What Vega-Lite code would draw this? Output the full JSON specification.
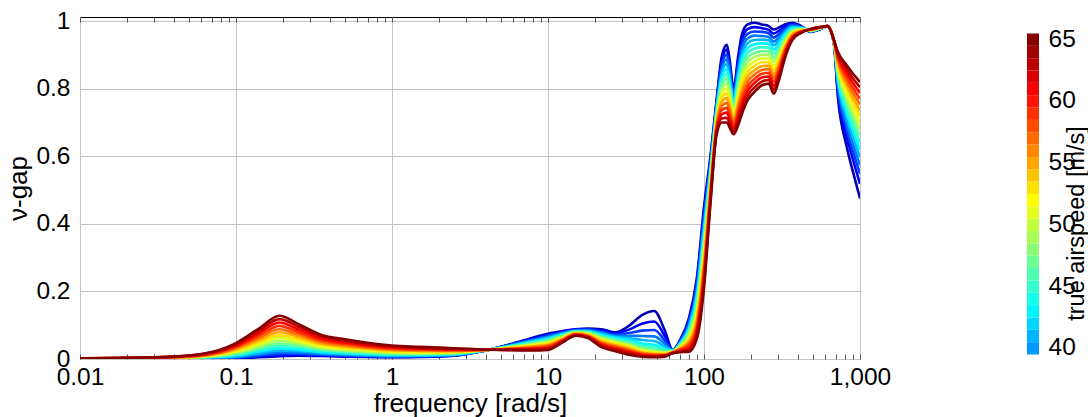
{
"$schema": "https://vega.github.io/schema/vega-lite/v6.json",
"padding": {"left": 5, "top": 7, "right": 0, "bottom": 0},
"bounds": "flush",
"spacing": 167,
"config": {
  "font": "Liberation Sans",
  "view": {"stroke": "#000", "strokeWidth": 1},
  "axis": {"labelFont": "Liberation Sans", "titleFont": "Liberation Sans", "labelFontSize": 24.5, "titleFontSize": 26, "labelColor": "#000", "titleColor": "#000", "titleFontWeight": "normal", "gridColor": "#c4c4c4", "domain": false, "labelFlush": false, "labelOverlap": false}
},
"hconcat": [
{
  "width": 780, "height": 342,
  "data": {"values": [
{"s":33,"f":0.01,"g":0},{"s":33,"f":0.03,"g":0},{"s":33,"f":0.06,"g":0.001},{"s":33,"f":0.1,"g":0.002},{"s":33,"f":0.14,"g":0.005},{"s":33,"f":0.19,"g":0.008},{"s":33,"f":0.25,"g":0.010},{"s":33,"f":0.35,"g":0.009},{"s":33,"f":0.5,"g":0.007},{"s":33,"f":0.7,"g":0.006},{"s":33,"f":1,"g":0.005},{"s":33,"f":1.5,"g":0.006},{"s":33,"f":2.5,"g":0.010},{"s":33,"f":4,"g":0.025},{"s":33,"f":6,"g":0.046},{"s":33,"f":8,"g":0.063},{"s":33,"f":10,"g":0.075},{"s":33,"f":12.5,"g":0.083},{"s":33,"f":15,"g":0.088},{"s":33,"f":18,"g":0.090},{"s":33,"f":22,"g":0.088},{"s":33,"f":27,"g":0.079},{"s":33,"f":33,"g":0.098},{"s":33,"f":40,"g":0.130},{"s":33,"f":48,"g":0.142},{"s":33,"f":56,"g":0.085},{"s":33,"f":63,"g":0.027},{"s":33,"f":70,"g":0.055},{"s":33,"f":80,"g":0.120},{"s":33,"f":90,"g":0.240},{"s":33,"f":100,"g":0.450},{"s":33,"f":110,"g":0.600},{"s":33,"f":120,"g":0.760},{"s":33,"f":130,"g":0.895},{"s":33,"f":140,"g":0.930},{"s":33,"f":145,"g":0.895},{"s":33,"f":155,"g":0.800},{"s":33,"f":165,"g":0.890},{"s":33,"f":175,"g":0.960},{"s":33,"f":190,"g":0.990},{"s":33,"f":210,"g":0.995},{"s":33,"f":235,"g":0.990},{"s":33,"f":260,"g":0.985},{"s":33,"f":280,"g":0.975},{"s":33,"f":300,"g":0.980},{"s":33,"f":330,"g":0.990},{"s":33,"f":370,"g":0.995},{"s":33,"f":420,"g":0.985},{"s":33,"f":480,"g":0.968},{"s":33,"f":550,"g":0.975},{"s":33,"f":620,"g":0.985},{"s":33,"f":680,"g":0.935},{"s":33,"f":720,"g":0.780},{"s":33,"f":820,"g":0.630},{"s":33,"f":900,"g":0.555},{"s":33,"f":1000,"g":0.475},
{"s":35,"f":0.01,"g":0},{"s":35,"f":0.03,"g":0},{"s":35,"f":0.06,"g":0.001},{"s":35,"f":0.1,"g":0.003},{"s":35,"f":0.14,"g":0.007},{"s":35,"f":0.19,"g":0.010},{"s":35,"f":0.25,"g":0.012},{"s":35,"f":0.35,"g":0.010},{"s":35,"f":0.5,"g":0.008},{"s":35,"f":0.7,"g":0.007},{"s":35,"f":1,"g":0.006},{"s":35,"f":1.5,"g":0.007},{"s":35,"f":2.5,"g":0.010},{"s":35,"f":4,"g":0.025},{"s":35,"f":6,"g":0.045},{"s":35,"f":8,"g":0.061},{"s":35,"f":10,"g":0.072},{"s":35,"f":12.5,"g":0.081},{"s":35,"f":15,"g":0.087},{"s":35,"f":18,"g":0.088},{"s":35,"f":22,"g":0.085},{"s":35,"f":27,"g":0.076},{"s":35,"f":33,"g":0.087},{"s":35,"f":40,"g":0.104},{"s":35,"f":48,"g":0.111},{"s":35,"f":56,"g":0.068},{"s":35,"f":63,"g":0.026},{"s":35,"f":70,"g":0.053},{"s":35,"f":80,"g":0.114},{"s":35,"f":90,"g":0.229},{"s":35,"f":100,"g":0.435},{"s":35,"f":110,"g":0.591},{"s":35,"f":120,"g":0.754},{"s":35,"f":130,"g":0.883},{"s":35,"f":140,"g":0.916},{"s":35,"f":145,"g":0.882},{"s":35,"f":155,"g":0.792},{"s":35,"f":165,"g":0.878},{"s":35,"f":175,"g":0.945},{"s":35,"f":190,"g":0.976},{"s":35,"f":210,"g":0.982},{"s":35,"f":235,"g":0.979},{"s":35,"f":260,"g":0.974},{"s":35,"f":280,"g":0.963},{"s":35,"f":300,"g":0.970},{"s":35,"f":330,"g":0.984},{"s":35,"f":370,"g":0.992},{"s":35,"f":420,"g":0.984},{"s":35,"f":480,"g":0.969},{"s":35,"f":550,"g":0.975},{"s":35,"f":620,"g":0.985},{"s":35,"f":680,"g":0.936},{"s":35,"f":720,"g":0.796},{"s":35,"f":820,"g":0.660},{"s":35,"f":900,"g":0.591},{"s":35,"f":1000,"g":0.518},
{"s":37,"f":0.01,"g":0},{"s":37,"f":0.03,"g":0},{"s":37,"f":0.06,"g":0.002},{"s":37,"f":0.1,"g":0.004},{"s":37,"f":0.14,"g":0.010},{"s":37,"f":0.19,"g":0.015},{"s":37,"f":0.25,"g":0.015},{"s":37,"f":0.35,"g":0.012},{"s":37,"f":0.5,"g":0.010},{"s":37,"f":0.7,"g":0.008},{"s":37,"f":1,"g":0.007},{"s":37,"f":1.5,"g":0.008},{"s":37,"f":2.5,"g":0.011},{"s":37,"f":4,"g":0.025},{"s":37,"f":6,"g":0.044},{"s":37,"f":8,"g":0.058},{"s":37,"f":10,"g":0.069},{"s":37,"f":12.5,"g":0.079},{"s":37,"f":15,"g":0.086},{"s":37,"f":18,"g":0.087},{"s":37,"f":22,"g":0.081},{"s":37,"f":27,"g":0.072},{"s":37,"f":33,"g":0.077},{"s":37,"f":40,"g":0.084},{"s":37,"f":48,"g":0.086},{"s":37,"f":56,"g":0.055},{"s":37,"f":63,"g":0.026},{"s":37,"f":70,"g":0.051},{"s":37,"f":80,"g":0.108},{"s":37,"f":90,"g":0.218},{"s":37,"f":100,"g":0.420},{"s":37,"f":110,"g":0.583},{"s":37,"f":120,"g":0.748},{"s":37,"f":130,"g":0.871},{"s":37,"f":140,"g":0.901},{"s":37,"f":145,"g":0.869},{"s":37,"f":155,"g":0.783},{"s":37,"f":165,"g":0.865},{"s":37,"f":175,"g":0.931},{"s":37,"f":190,"g":0.962},{"s":37,"f":210,"g":0.969},{"s":37,"f":235,"g":0.968},{"s":37,"f":260,"g":0.964},{"s":37,"f":280,"g":0.951},{"s":37,"f":300,"g":0.960},{"s":37,"f":330,"g":0.978},{"s":37,"f":370,"g":0.989},{"s":37,"f":420,"g":0.983},{"s":37,"f":480,"g":0.969},{"s":37,"f":550,"g":0.976},{"s":37,"f":620,"g":0.985},{"s":37,"f":680,"g":0.936},{"s":37,"f":720,"g":0.807},{"s":37,"f":820,"g":0.680},{"s":37,"f":900,"g":0.616},{"s":37,"f":1000,"g":0.548},
{"s":39,"f":0.01,"g":0},{"s":39,"f":0.03,"g":0},{"s":39,"f":0.06,"g":0.002},{"s":39,"f":0.1,"g":0.006},{"s":39,"f":0.14,"g":0.013},{"s":39,"f":0.19,"g":0.020},{"s":39,"f":0.25,"g":0.019},{"s":39,"f":0.35,"g":0.015},{"s":39,"f":0.5,"g":0.012},{"s":39,"f":0.7,"g":0.010},{"s":39,"f":1,"g":0.008},{"s":39,"f":1.5,"g":0.009},{"s":39,"f":2.5,"g":0.012},{"s":39,"f":4,"g":0.026},{"s":39,"f":6,"g":0.042},{"s":39,"f":8,"g":0.056},{"s":39,"f":10,"g":0.066},{"s":39,"f":12.5,"g":0.077},{"s":39,"f":15,"g":0.084},{"s":39,"f":18,"g":0.085},{"s":39,"f":22,"g":0.078},{"s":39,"f":27,"g":0.069},{"s":39,"f":33,"g":0.069},{"s":39,"f":40,"g":0.068},{"s":39,"f":48,"g":0.067},{"s":39,"f":56,"g":0.045},{"s":39,"f":63,"g":0.025},{"s":39,"f":70,"g":0.048},{"s":39,"f":80,"g":0.101},{"s":39,"f":90,"g":0.206},{"s":39,"f":100,"g":0.405},{"s":39,"f":110,"g":0.574},{"s":39,"f":120,"g":0.741},{"s":39,"f":130,"g":0.858},{"s":39,"f":140,"g":0.887},{"s":39,"f":145,"g":0.856},{"s":39,"f":155,"g":0.775},{"s":39,"f":165,"g":0.853},{"s":39,"f":175,"g":0.916},{"s":39,"f":190,"g":0.948},{"s":39,"f":210,"g":0.957},{"s":39,"f":235,"g":0.956},{"s":39,"f":260,"g":0.953},{"s":39,"f":280,"g":0.939},{"s":39,"f":300,"g":0.950},{"s":39,"f":330,"g":0.971},{"s":39,"f":370,"g":0.986},{"s":39,"f":420,"g":0.981},{"s":39,"f":480,"g":0.970},{"s":39,"f":550,"g":0.976},{"s":39,"f":620,"g":0.985},{"s":39,"f":680,"g":0.937},{"s":39,"f":720,"g":0.817},{"s":39,"f":820,"g":0.698},{"s":39,"f":900,"g":0.638},{"s":39,"f":1000,"g":0.573},
{"s":41,"f":0.01,"g":0},{"s":41,"f":0.03,"g":0.001},{"s":41,"f":0.06,"g":0.003},{"s":41,"f":0.1,"g":0.008},{"s":41,"f":0.14,"g":0.017},{"s":41,"f":0.19,"g":0.025},{"s":41,"f":0.25,"g":0.024},{"s":41,"f":0.35,"g":0.018},{"s":41,"f":0.5,"g":0.014},{"s":41,"f":0.7,"g":0.012},{"s":41,"f":1,"g":0.010},{"s":41,"f":1.5,"g":0.010},{"s":41,"f":2.5,"g":0.013},{"s":41,"f":4,"g":0.026},{"s":41,"f":6,"g":0.041},{"s":41,"f":8,"g":0.054},{"s":41,"f":10,"g":0.063},{"s":41,"f":12.5,"g":0.075},{"s":41,"f":15,"g":0.083},{"s":41,"f":18,"g":0.083},{"s":41,"f":22,"g":0.075},{"s":41,"f":27,"g":0.065},{"s":41,"f":33,"g":0.062},{"s":41,"f":40,"g":0.056},{"s":41,"f":48,"g":0.053},{"s":41,"f":56,"g":0.037},{"s":41,"f":63,"g":0.025},{"s":41,"f":70,"g":0.046},{"s":41,"f":80,"g":0.095},{"s":41,"f":90,"g":0.195},{"s":41,"f":100,"g":0.390},{"s":41,"f":110,"g":0.565},{"s":41,"f":120,"g":0.735},{"s":41,"f":130,"g":0.846},{"s":41,"f":140,"g":0.873},{"s":41,"f":145,"g":0.843},{"s":41,"f":155,"g":0.766},{"s":41,"f":165,"g":0.840},{"s":41,"f":175,"g":0.901},{"s":41,"f":190,"g":0.934},{"s":41,"f":210,"g":0.944},{"s":41,"f":235,"g":0.945},{"s":41,"f":260,"g":0.943},{"s":41,"f":280,"g":0.928},{"s":41,"f":300,"g":0.940},{"s":41,"f":330,"g":0.965},{"s":41,"f":370,"g":0.983},{"s":41,"f":420,"g":0.980},{"s":41,"f":480,"g":0.970},{"s":41,"f":550,"g":0.977},{"s":41,"f":620,"g":0.985},{"s":41,"f":680,"g":0.938},{"s":41,"f":720,"g":0.826},{"s":41,"f":820,"g":0.715},{"s":41,"f":900,"g":0.658},{"s":41,"f":1000,"g":0.597},
{"s":43,"f":0.01,"g":0},{"s":43,"f":0.03,"g":0.001},{"s":43,"f":0.06,"g":0.004},{"s":43,"f":0.1,"g":0.011},{"s":43,"f":0.14,"g":0.022},{"s":43,"f":0.19,"g":0.032},{"s":43,"f":0.25,"g":0.028},{"s":43,"f":0.35,"g":0.021},{"s":43,"f":0.5,"g":0.017},{"s":43,"f":0.7,"g":0.014},{"s":43,"f":1,"g":0.012},{"s":43,"f":1.5,"g":0.012},{"s":43,"f":2.5,"g":0.014},{"s":43,"f":4,"g":0.026},{"s":43,"f":6,"g":0.040},{"s":43,"f":8,"g":0.051},{"s":43,"f":10,"g":0.060},{"s":43,"f":12.5,"g":0.073},{"s":43,"f":15,"g":0.082},{"s":43,"f":18,"g":0.081},{"s":43,"f":22,"g":0.071},{"s":43,"f":27,"g":0.062},{"s":43,"f":33,"g":0.057},{"s":43,"f":40,"g":0.046},{"s":43,"f":48,"g":0.042},{"s":43,"f":56,"g":0.031},{"s":43,"f":63,"g":0.024},{"s":43,"f":70,"g":0.044},{"s":43,"f":80,"g":0.089},{"s":43,"f":90,"g":0.184},{"s":43,"f":100,"g":0.375},{"s":43,"f":110,"g":0.556},{"s":43,"f":120,"g":0.729},{"s":43,"f":130,"g":0.834},{"s":43,"f":140,"g":0.858},{"s":43,"f":145,"g":0.830},{"s":43,"f":155,"g":0.758},{"s":43,"f":165,"g":0.828},{"s":43,"f":175,"g":0.887},{"s":43,"f":190,"g":0.920},{"s":43,"f":210,"g":0.931},{"s":43,"f":235,"g":0.934},{"s":43,"f":260,"g":0.932},{"s":43,"f":280,"g":0.916},{"s":43,"f":300,"g":0.930},{"s":43,"f":330,"g":0.959},{"s":43,"f":370,"g":0.979},{"s":43,"f":420,"g":0.979},{"s":43,"f":480,"g":0.971},{"s":43,"f":550,"g":0.977},{"s":43,"f":620,"g":0.985},{"s":43,"f":680,"g":0.938},{"s":43,"f":720,"g":0.834},{"s":43,"f":820,"g":0.730},{"s":43,"f":900,"g":0.676},{"s":43,"f":1000,"g":0.619},
{"s":45,"f":0.01,"g":0.001},{"s":45,"f":0.03,"g":0.001},{"s":45,"f":0.06,"g":0.005},{"s":45,"f":0.1,"g":0.013},{"s":45,"f":0.14,"g":0.027},{"s":45,"f":0.19,"g":0.038},{"s":45,"f":0.25,"g":0.034},{"s":45,"f":0.35,"g":0.025},{"s":45,"f":0.5,"g":0.020},{"s":45,"f":0.7,"g":0.017},{"s":45,"f":1,"g":0.014},{"s":45,"f":1.5,"g":0.014},{"s":45,"f":2.5,"g":0.016},{"s":45,"f":4,"g":0.026},{"s":45,"f":6,"g":0.039},{"s":45,"f":8,"g":0.049},{"s":45,"f":10,"g":0.057},{"s":45,"f":12.5,"g":0.071},{"s":45,"f":15,"g":0.081},{"s":45,"f":18,"g":0.080},{"s":45,"f":22,"g":0.068},{"s":45,"f":27,"g":0.058},{"s":45,"f":33,"g":0.051},{"s":45,"f":40,"g":0.039},{"s":45,"f":48,"g":0.034},{"s":45,"f":56,"g":0.027},{"s":45,"f":63,"g":0.023},{"s":45,"f":70,"g":0.042},{"s":45,"f":80,"g":0.083},{"s":45,"f":90,"g":0.173},{"s":45,"f":100,"g":0.360},{"s":45,"f":110,"g":0.548},{"s":45,"f":120,"g":0.723},{"s":45,"f":130,"g":0.822},{"s":45,"f":140,"g":0.844},{"s":45,"f":145,"g":0.817},{"s":45,"f":155,"g":0.749},{"s":45,"f":165,"g":0.815},{"s":45,"f":175,"g":0.872},{"s":45,"f":190,"g":0.906},{"s":45,"f":210,"g":0.918},{"s":45,"f":235,"g":0.923},{"s":45,"f":260,"g":0.921},{"s":45,"f":280,"g":0.904},{"s":45,"f":300,"g":0.920},{"s":45,"f":330,"g":0.953},{"s":45,"f":370,"g":0.976},{"s":45,"f":420,"g":0.978},{"s":45,"f":480,"g":0.971},{"s":45,"f":550,"g":0.978},{"s":45,"f":620,"g":0.985},{"s":45,"f":680,"g":0.939},{"s":45,"f":720,"g":0.842},{"s":45,"f":820,"g":0.745},{"s":45,"f":900,"g":0.694},{"s":45,"f":1000,"g":0.640},
{"s":47,"f":0.01,"g":0.001},{"s":47,"f":0.03,"g":0.002},{"s":47,"f":0.06,"g":0.005},{"s":47,"f":0.1,"g":0.016},{"s":47,"f":0.14,"g":0.032},{"s":47,"f":0.19,"g":0.046},{"s":47,"f":0.25,"g":0.040},{"s":47,"f":0.35,"g":0.029},{"s":47,"f":0.5,"g":0.023},{"s":47,"f":0.7,"g":0.019},{"s":47,"f":1,"g":0.016},{"s":47,"f":1.5,"g":0.015},{"s":47,"f":2.5,"g":0.017},{"s":47,"f":4,"g":0.026},{"s":47,"f":6,"g":0.037},{"s":47,"f":8,"g":0.046},{"s":47,"f":10,"g":0.054},{"s":47,"f":12.5,"g":0.069},{"s":47,"f":15,"g":0.080},{"s":47,"f":18,"g":0.078},{"s":47,"f":22,"g":0.065},{"s":47,"f":27,"g":0.055},{"s":47,"f":33,"g":0.047},{"s":47,"f":40,"g":0.033},{"s":47,"f":48,"g":0.028},{"s":47,"f":56,"g":0.023},{"s":47,"f":63,"g":0.023},{"s":47,"f":70,"g":0.040},{"s":47,"f":80,"g":0.077},{"s":47,"f":90,"g":0.161},{"s":47,"f":100,"g":0.345},{"s":47,"f":110,"g":0.539},{"s":47,"f":120,"g":0.716},{"s":47,"f":130,"g":0.810},{"s":47,"f":140,"g":0.829},{"s":47,"f":145,"g":0.804},{"s":47,"f":155,"g":0.741},{"s":47,"f":165,"g":0.803},{"s":47,"f":175,"g":0.857},{"s":47,"f":190,"g":0.892},{"s":47,"f":210,"g":0.905},{"s":47,"f":235,"g":0.911},{"s":47,"f":260,"g":0.911},{"s":47,"f":280,"g":0.892},{"s":47,"f":300,"g":0.910},{"s":47,"f":330,"g":0.946},{"s":47,"f":370,"g":0.973},{"s":47,"f":420,"g":0.976},{"s":47,"f":480,"g":0.972},{"s":47,"f":550,"g":0.978},{"s":47,"f":620,"g":0.985},{"s":47,"f":680,"g":0.939},{"s":47,"f":720,"g":0.850},{"s":47,"f":820,"g":0.759},{"s":47,"f":900,"g":0.711},{"s":47,"f":1000,"g":0.661},
{"s":49,"f":0.01,"g":0.001},{"s":49,"f":0.03,"g":0.002},{"s":49,"f":0.06,"g":0.006},{"s":49,"f":0.1,"g":0.019},{"s":49,"f":0.14,"g":0.037},{"s":49,"f":0.19,"g":0.054},{"s":49,"f":0.25,"g":0.046},{"s":49,"f":0.35,"g":0.033},{"s":49,"f":0.5,"g":0.026},{"s":49,"f":0.7,"g":0.022},{"s":49,"f":1,"g":0.018},{"s":49,"f":1.5,"g":0.017},{"s":49,"f":2.5,"g":0.018},{"s":49,"f":4,"g":0.027},{"s":49,"f":6,"g":0.036},{"s":49,"f":8,"g":0.044},{"s":49,"f":10,"g":0.051},{"s":49,"f":12.5,"g":0.067},{"s":49,"f":15,"g":0.079},{"s":49,"f":18,"g":0.076},{"s":49,"f":22,"g":0.062},{"s":49,"f":27,"g":0.051},{"s":49,"f":33,"g":0.042},{"s":49,"f":40,"g":0.029},{"s":49,"f":48,"g":0.023},{"s":49,"f":56,"g":0.020},{"s":49,"f":63,"g":0.022},{"s":49,"f":70,"g":0.038},{"s":49,"f":80,"g":0.071},{"s":49,"f":90,"g":0.150},{"s":49,"f":100,"g":0.330},{"s":49,"f":110,"g":0.530},{"s":49,"f":120,"g":0.710},{"s":49,"f":130,"g":0.798},{"s":49,"f":140,"g":0.815},{"s":49,"f":145,"g":0.792},{"s":49,"f":155,"g":0.733},{"s":49,"f":165,"g":0.790},{"s":49,"f":175,"g":0.843},{"s":49,"f":190,"g":0.878},{"s":49,"f":210,"g":0.893},{"s":49,"f":235,"g":0.900},{"s":49,"f":260,"g":0.900},{"s":49,"f":280,"g":0.880},{"s":49,"f":300,"g":0.900},{"s":49,"f":330,"g":0.940},{"s":49,"f":370,"g":0.970},{"s":49,"f":420,"g":0.975},{"s":49,"f":480,"g":0.972},{"s":49,"f":550,"g":0.979},{"s":49,"f":620,"g":0.985},{"s":49,"f":680,"g":0.940},{"s":49,"f":720,"g":0.857},{"s":49,"f":820,"g":0.773},{"s":49,"f":900,"g":0.727},{"s":49,"f":1000,"g":0.680},
{"s":51,"f":0.01,"g":0.001},{"s":51,"f":0.03,"g":0.002},{"s":51,"f":0.06,"g":0.007},{"s":51,"f":0.1,"g":0.022},{"s":51,"f":0.14,"g":0.043},{"s":51,"f":0.19,"g":0.062},{"s":51,"f":0.25,"g":0.052},{"s":51,"f":0.35,"g":0.037},{"s":51,"f":0.5,"g":0.030},{"s":51,"f":0.7,"g":0.025},{"s":51,"f":1,"g":0.021},{"s":51,"f":1.5,"g":0.019},{"s":51,"f":2.5,"g":0.020},{"s":51,"f":4,"g":0.027},{"s":51,"f":6,"g":0.035},{"s":51,"f":8,"g":0.042},{"s":51,"f":10,"g":0.048},{"s":51,"f":12.5,"g":0.064},{"s":51,"f":15,"g":0.077},{"s":51,"f":18,"g":0.074},{"s":51,"f":22,"g":0.058},{"s":51,"f":27,"g":0.048},{"s":51,"f":33,"g":0.038},{"s":51,"f":40,"g":0.025},{"s":51,"f":48,"g":0.020},{"s":51,"f":56,"g":0.018},{"s":51,"f":63,"g":0.021},{"s":51,"f":70,"g":0.035},{"s":51,"f":80,"g":0.064},{"s":51,"f":90,"g":0.139},{"s":51,"f":100,"g":0.315},{"s":51,"f":110,"g":0.521},{"s":51,"f":120,"g":0.704},{"s":51,"f":130,"g":0.785},{"s":51,"f":140,"g":0.801},{"s":51,"f":145,"g":0.779},{"s":51,"f":155,"g":0.724},{"s":51,"f":165,"g":0.778},{"s":51,"f":175,"g":0.828},{"s":51,"f":190,"g":0.863},{"s":51,"f":210,"g":0.880},{"s":51,"f":235,"g":0.889},{"s":51,"f":260,"g":0.889},{"s":51,"f":280,"g":0.868},{"s":51,"f":300,"g":0.890},{"s":51,"f":330,"g":0.934},{"s":51,"f":370,"g":0.967},{"s":51,"f":420,"g":0.974},{"s":51,"f":480,"g":0.973},{"s":51,"f":550,"g":0.979},{"s":51,"f":620,"g":0.985},{"s":51,"f":680,"g":0.941},{"s":51,"f":720,"g":0.864},{"s":51,"f":820,"g":0.786},{"s":51,"f":900,"g":0.743},{"s":51,"f":1000,"g":0.699},
{"s":53,"f":0.01,"g":0.001},{"s":53,"f":0.03,"g":0.003},{"s":53,"f":0.06,"g":0.008},{"s":53,"f":0.1,"g":0.025},{"s":53,"f":0.14,"g":0.049},{"s":53,"f":0.19,"g":0.070},{"s":53,"f":0.25,"g":0.059},{"s":53,"f":0.35,"g":0.042},{"s":53,"f":0.5,"g":0.033},{"s":53,"f":0.7,"g":0.028},{"s":53,"f":1,"g":0.023},{"s":53,"f":1.5,"g":0.022},{"s":53,"f":2.5,"g":0.021},{"s":53,"f":4,"g":0.027},{"s":53,"f":6,"g":0.034},{"s":53,"f":8,"g":0.039},{"s":53,"f":10,"g":0.045},{"s":53,"f":12.5,"g":0.062},{"s":53,"f":15,"g":0.076},{"s":53,"f":18,"g":0.073},{"s":53,"f":22,"g":0.055},{"s":53,"f":27,"g":0.044},{"s":53,"f":33,"g":0.035},{"s":53,"f":40,"g":0.022},{"s":53,"f":48,"g":0.017},{"s":53,"f":56,"g":0.016},{"s":53,"f":63,"g":0.021},{"s":53,"f":70,"g":0.033},{"s":53,"f":80,"g":0.058},{"s":53,"f":90,"g":0.128},{"s":53,"f":100,"g":0.300},{"s":53,"f":110,"g":0.513},{"s":53,"f":120,"g":0.698},{"s":53,"f":130,"g":0.773},{"s":53,"f":140,"g":0.786},{"s":53,"f":145,"g":0.766},{"s":53,"f":155,"g":0.716},{"s":53,"f":165,"g":0.765},{"s":53,"f":175,"g":0.813},{"s":53,"f":190,"g":0.849},{"s":53,"f":210,"g":0.867},{"s":53,"f":235,"g":0.878},{"s":53,"f":260,"g":0.879},{"s":53,"f":280,"g":0.856},{"s":53,"f":300,"g":0.880},{"s":53,"f":330,"g":0.928},{"s":53,"f":370,"g":0.964},{"s":53,"f":420,"g":0.973},{"s":53,"f":480,"g":0.973},{"s":53,"f":550,"g":0.979},{"s":53,"f":620,"g":0.985},{"s":53,"f":680,"g":0.941},{"s":53,"f":720,"g":0.871},{"s":53,"f":820,"g":0.799},{"s":53,"f":900,"g":0.759},{"s":53,"f":1000,"g":0.718},
{"s":55,"f":0.01,"g":0.001},{"s":55,"f":0.03,"g":0.003},{"s":55,"f":0.06,"g":0.009},{"s":55,"f":0.1,"g":0.029},{"s":55,"f":0.14,"g":0.055},{"s":55,"f":0.19,"g":0.079},{"s":55,"f":0.25,"g":0.066},{"s":55,"f":0.35,"g":0.046},{"s":55,"f":0.5,"g":0.037},{"s":55,"f":0.7,"g":0.031},{"s":55,"f":1,"g":0.026},{"s":55,"f":1.5,"g":0.024},{"s":55,"f":2.5,"g":0.023},{"s":55,"f":4,"g":0.027},{"s":55,"f":6,"g":0.032},{"s":55,"f":8,"g":0.037},{"s":55,"f":10,"g":0.042},{"s":55,"f":12.5,"g":0.060},{"s":55,"f":15,"g":0.075},{"s":55,"f":18,"g":0.071},{"s":55,"f":22,"g":0.052},{"s":55,"f":27,"g":0.041},{"s":55,"f":33,"g":0.031},{"s":55,"f":40,"g":0.019},{"s":55,"f":48,"g":0.015},{"s":55,"f":56,"g":0.014},{"s":55,"f":63,"g":0.020},{"s":55,"f":70,"g":0.031},{"s":55,"f":80,"g":0.052},{"s":55,"f":90,"g":0.116},{"s":55,"f":100,"g":0.285},{"s":55,"f":110,"g":0.504},{"s":55,"f":120,"g":0.691},{"s":55,"f":130,"g":0.761},{"s":55,"f":140,"g":0.772},{"s":55,"f":145,"g":0.753},{"s":55,"f":155,"g":0.707},{"s":55,"f":165,"g":0.753},{"s":55,"f":175,"g":0.798},{"s":55,"f":190,"g":0.835},{"s":55,"f":210,"g":0.854},{"s":55,"f":235,"g":0.866},{"s":55,"f":260,"g":0.868},{"s":55,"f":280,"g":0.844},{"s":55,"f":300,"g":0.870},{"s":55,"f":330,"g":0.921},{"s":55,"f":370,"g":0.961},{"s":55,"f":420,"g":0.971},{"s":55,"f":480,"g":0.974},{"s":55,"f":550,"g":0.980},{"s":55,"f":620,"g":0.985},{"s":55,"f":680,"g":0.942},{"s":55,"f":720,"g":0.878},{"s":55,"f":820,"g":0.811},{"s":55,"f":900,"g":0.774},{"s":55,"f":1000,"g":0.735},
{"s":57,"f":0.01,"g":0.001},{"s":57,"f":0.03,"g":0.003},{"s":57,"f":0.06,"g":0.010},{"s":57,"f":0.1,"g":0.032},{"s":57,"f":0.14,"g":0.062},{"s":57,"f":0.19,"g":0.088},{"s":57,"f":0.25,"g":0.073},{"s":57,"f":0.35,"g":0.051},{"s":57,"f":0.5,"g":0.041},{"s":57,"f":0.7,"g":0.034},{"s":57,"f":1,"g":0.028},{"s":57,"f":1.5,"g":0.026},{"s":57,"f":2.5,"g":0.025},{"s":57,"f":4,"g":0.027},{"s":57,"f":6,"g":0.031},{"s":57,"f":8,"g":0.035},{"s":57,"f":10,"g":0.039},{"s":57,"f":12.5,"g":0.058},{"s":57,"f":15,"g":0.074},{"s":57,"f":18,"g":0.069},{"s":57,"f":22,"g":0.048},{"s":57,"f":27,"g":0.037},{"s":57,"f":33,"g":0.027},{"s":57,"f":40,"g":0.017},{"s":57,"f":48,"g":0.013},{"s":57,"f":56,"g":0.013},{"s":57,"f":63,"g":0.020},{"s":57,"f":70,"g":0.029},{"s":57,"f":80,"g":0.046},{"s":57,"f":90,"g":0.105},{"s":57,"f":100,"g":0.270},{"s":57,"f":110,"g":0.495},{"s":57,"f":120,"g":0.685},{"s":57,"f":130,"g":0.749},{"s":57,"f":140,"g":0.758},{"s":57,"f":145,"g":0.740},{"s":57,"f":155,"g":0.699},{"s":57,"f":165,"g":0.740},{"s":57,"f":175,"g":0.784},{"s":57,"f":190,"g":0.821},{"s":57,"f":210,"g":0.841},{"s":57,"f":235,"g":0.855},{"s":57,"f":260,"g":0.858},{"s":57,"f":280,"g":0.833},{"s":57,"f":300,"g":0.860},{"s":57,"f":330,"g":0.915},{"s":57,"f":370,"g":0.958},{"s":57,"f":420,"g":0.970},{"s":57,"f":480,"g":0.974},{"s":57,"f":550,"g":0.980},{"s":57,"f":620,"g":0.985},{"s":57,"f":680,"g":0.943},{"s":57,"f":720,"g":0.885},{"s":57,"f":820,"g":0.823},{"s":57,"f":900,"g":0.789},{"s":57,"f":1000,"g":0.753},
{"s":59,"f":0.01,"g":0.001},{"s":59,"f":0.03,"g":0.004},{"s":59,"f":0.06,"g":0.011},{"s":59,"f":0.1,"g":0.036},{"s":59,"f":0.14,"g":0.069},{"s":59,"f":0.19,"g":0.098},{"s":59,"f":0.25,"g":0.080},{"s":59,"f":0.35,"g":0.056},{"s":59,"f":0.5,"g":0.045},{"s":59,"f":0.7,"g":0.037},{"s":59,"f":1,"g":0.031},{"s":59,"f":1.5,"g":0.028},{"s":59,"f":2.5,"g":0.026},{"s":59,"f":4,"g":0.027},{"s":59,"f":6,"g":0.030},{"s":59,"f":8,"g":0.032},{"s":59,"f":10,"g":0.036},{"s":59,"f":12.5,"g":0.056},{"s":59,"f":15,"g":0.073},{"s":59,"f":18,"g":0.067},{"s":59,"f":22,"g":0.045},{"s":59,"f":27,"g":0.034},{"s":59,"f":33,"g":0.024},{"s":59,"f":40,"g":0.014},{"s":59,"f":48,"g":0.011},{"s":59,"f":56,"g":0.011},{"s":59,"f":63,"g":0.019},{"s":59,"f":70,"g":0.027},{"s":59,"f":80,"g":0.040},{"s":59,"f":90,"g":0.094},{"s":59,"f":100,"g":0.255},{"s":59,"f":110,"g":0.486},{"s":59,"f":120,"g":0.679},{"s":59,"f":130,"g":0.737},{"s":59,"f":140,"g":0.743},{"s":59,"f":145,"g":0.727},{"s":59,"f":155,"g":0.690},{"s":59,"f":165,"g":0.728},{"s":59,"f":175,"g":0.769},{"s":59,"f":190,"g":0.807},{"s":59,"f":210,"g":0.828},{"s":59,"f":235,"g":0.844},{"s":59,"f":260,"g":0.847},{"s":59,"f":280,"g":0.821},{"s":59,"f":300,"g":0.850},{"s":59,"f":330,"g":0.909},{"s":59,"f":370,"g":0.954},{"s":59,"f":420,"g":0.969},{"s":59,"f":480,"g":0.975},{"s":59,"f":550,"g":0.981},{"s":59,"f":620,"g":0.985},{"s":59,"f":680,"g":0.943},{"s":59,"f":720,"g":0.891},{"s":59,"f":820,"g":0.835},{"s":59,"f":900,"g":0.803},{"s":59,"f":1000,"g":0.770},
{"s":61,"f":0.01,"g":0.002},{"s":61,"f":0.03,"g":0.004},{"s":61,"f":0.06,"g":0.013},{"s":61,"f":0.1,"g":0.039},{"s":61,"f":0.14,"g":0.076},{"s":61,"f":0.19,"g":0.108},{"s":61,"f":0.25,"g":0.088},{"s":61,"f":0.35,"g":0.061},{"s":61,"f":0.5,"g":0.049},{"s":61,"f":0.7,"g":0.041},{"s":61,"f":1,"g":0.034},{"s":61,"f":1.5,"g":0.031},{"s":61,"f":2.5,"g":0.028},{"s":61,"f":4,"g":0.028},{"s":61,"f":6,"g":0.029},{"s":61,"f":8,"g":0.030},{"s":61,"f":10,"g":0.033},{"s":61,"f":12.5,"g":0.054},{"s":61,"f":15,"g":0.071},{"s":61,"f":18,"g":0.066},{"s":61,"f":22,"g":0.042},{"s":61,"f":27,"g":0.030},{"s":61,"f":33,"g":0.020},{"s":61,"f":40,"g":0.012},{"s":61,"f":48,"g":0.009},{"s":61,"f":56,"g":0.010},{"s":61,"f":63,"g":0.018},{"s":61,"f":70,"g":0.024},{"s":61,"f":80,"g":0.033},{"s":61,"f":90,"g":0.083},{"s":61,"f":100,"g":0.240},{"s":61,"f":110,"g":0.478},{"s":61,"f":120,"g":0.673},{"s":61,"f":130,"g":0.724},{"s":61,"f":140,"g":0.729},{"s":61,"f":145,"g":0.714},{"s":61,"f":155,"g":0.682},{"s":61,"f":165,"g":0.715},{"s":61,"f":175,"g":0.754},{"s":61,"f":190,"g":0.793},{"s":61,"f":210,"g":0.816},{"s":61,"f":235,"g":0.833},{"s":61,"f":260,"g":0.836},{"s":61,"f":280,"g":0.809},{"s":61,"f":300,"g":0.840},{"s":61,"f":330,"g":0.903},{"s":61,"f":370,"g":0.951},{"s":61,"f":420,"g":0.968},{"s":61,"f":480,"g":0.975},{"s":61,"f":550,"g":0.981},{"s":61,"f":620,"g":0.985},{"s":61,"f":680,"g":0.944},{"s":61,"f":720,"g":0.898},{"s":61,"f":820,"g":0.847},{"s":61,"f":900,"g":0.817},{"s":61,"f":1000,"g":0.787},
{"s":63,"f":0.01,"g":0.002},{"s":63,"f":0.03,"g":0.005},{"s":63,"f":0.06,"g":0.014},{"s":63,"f":0.1,"g":0.043},{"s":63,"f":0.14,"g":0.083},{"s":63,"f":0.19,"g":0.118},{"s":63,"f":0.25,"g":0.096},{"s":63,"f":0.35,"g":0.067},{"s":63,"f":0.5,"g":0.054},{"s":63,"f":0.7,"g":0.044},{"s":63,"f":1,"g":0.037},{"s":63,"f":1.5,"g":0.033},{"s":63,"f":2.5,"g":0.030},{"s":63,"f":4,"g":0.028},{"s":63,"f":6,"g":0.027},{"s":63,"f":8,"g":0.027},{"s":63,"f":10,"g":0.030},{"s":63,"f":12.5,"g":0.052},{"s":63,"f":15,"g":0.070},{"s":63,"f":18,"g":0.064},{"s":63,"f":22,"g":0.038},{"s":63,"f":27,"g":0.027},{"s":63,"f":33,"g":0.017},{"s":63,"f":40,"g":0.009},{"s":63,"f":48,"g":0.007},{"s":63,"f":56,"g":0.008},{"s":63,"f":63,"g":0.018},{"s":63,"f":70,"g":0.022},{"s":63,"f":80,"g":0.027},{"s":63,"f":90,"g":0.071},{"s":63,"f":100,"g":0.225},{"s":63,"f":110,"g":0.469},{"s":63,"f":120,"g":0.666},{"s":63,"f":130,"g":0.712},{"s":63,"f":140,"g":0.714},{"s":63,"f":145,"g":0.701},{"s":63,"f":155,"g":0.673},{"s":63,"f":165,"g":0.703},{"s":63,"f":175,"g":0.740},{"s":63,"f":190,"g":0.779},{"s":63,"f":210,"g":0.803},{"s":63,"f":235,"g":0.821},{"s":63,"f":260,"g":0.826},{"s":63,"f":280,"g":0.797},{"s":63,"f":300,"g":0.830},{"s":63,"f":330,"g":0.896},{"s":63,"f":370,"g":0.948},{"s":63,"f":420,"g":0.966},{"s":63,"f":480,"g":0.976},{"s":63,"f":550,"g":0.982},{"s":63,"f":620,"g":0.985},{"s":63,"f":680,"g":0.944},{"s":63,"f":720,"g":0.904},{"s":63,"f":820,"g":0.859},{"s":63,"f":900,"g":0.831},{"s":63,"f":1000,"g":0.804},
{"s":65,"f":0.01,"g":0.002},{"s":65,"f":0.03,"g":0.005},{"s":65,"f":0.06,"g":0.015},{"s":65,"f":0.1,"g":0.047},{"s":65,"f":0.14,"g":0.090},{"s":65,"f":0.19,"g":0.128},{"s":65,"f":0.25,"g":0.104},{"s":65,"f":0.35,"g":0.072},{"s":65,"f":0.5,"g":0.058},{"s":65,"f":0.7,"g":0.048},{"s":65,"f":1,"g":0.040},{"s":65,"f":1.5,"g":0.036},{"s":65,"f":2.5,"g":0.032},{"s":65,"f":4,"g":0.028},{"s":65,"f":6,"g":0.026},{"s":65,"f":8,"g":0.025},{"s":65,"f":10,"g":0.027},{"s":65,"f":12.5,"g":0.050},{"s":65,"f":15,"g":0.069},{"s":65,"f":18,"g":0.062},{"s":65,"f":22,"g":0.035},{"s":65,"f":27,"g":0.023},{"s":65,"f":33,"g":0.013},{"s":65,"f":40,"g":0.007},{"s":65,"f":48,"g":0.005},{"s":65,"f":56,"g":0.007},{"s":65,"f":63,"g":0.017},{"s":65,"f":70,"g":0.020},{"s":65,"f":80,"g":0.021},{"s":65,"f":90,"g":0.060},{"s":65,"f":100,"g":0.210},{"s":65,"f":110,"g":0.460},{"s":65,"f":120,"g":0.660},{"s":65,"f":130,"g":0.700},{"s":65,"f":140,"g":0.700},{"s":65,"f":145,"g":0.688},{"s":65,"f":155,"g":0.665},{"s":65,"f":165,"g":0.690},{"s":65,"f":175,"g":0.725},{"s":65,"f":190,"g":0.765},{"s":65,"f":210,"g":0.790},{"s":65,"f":235,"g":0.810},{"s":65,"f":260,"g":0.815},{"s":65,"f":280,"g":0.785},{"s":65,"f":300,"g":0.820},{"s":65,"f":330,"g":0.890},{"s":65,"f":370,"g":0.945},{"s":65,"f":420,"g":0.965},{"s":65,"f":480,"g":0.976},{"s":65,"f":550,"g":0.982},{"s":65,"f":620,"g":0.985},{"s":65,"f":680,"g":0.945},{"s":65,"f":720,"g":0.910},{"s":65,"f":820,"g":0.870},{"s":65,"f":900,"g":0.845},{"s":65,"f":1000,"g":0.820}
  ]},
  "layer": [
    {
      "mark": {"type": "line", "strokeWidth": 2.6, "interpolate": "monotone", "clip": true},
      "encoding": {
        "x": {"field": "f", "type": "quantitative", "scale": {"type": "log", "domain": [0.01, 1000]},
          "axis": {"orient": "bottom", "title": "frequency [rad/s]",
            "values": [0.01,0.02,0.03,0.04,0.05,0.06,0.07,0.08,0.09,0.1,0.2,0.3,0.4,0.5,0.6,0.7,0.8,0.9,1,2,3,4,5,6,7,8,9,10,20,30,40,50,60,70,80,90,100,200,300,400,500,600,700,800,900,1000],
            "labelExpr": "indexof([0.01,0.1,1,10,100,1000], datum.value) >= 0 ? format(datum.value, ',~g') : ''",
            "gridOpacity": {"condition": {"test": "indexof([0.01,0.1,1,10,100,1000], datum.value) >= 0", "value": 1}, "value": 0},
            "tickSize": -5, "tickColor": "#555", "labelPadding": 11, "titlePadding": 2}},
        "y": {"field": "g", "type": "quantitative", "scale": {"domain": [0, 1.012], "nice": false},
          "axis": {"values": [0, 0.2, 0.4, 0.6, 0.8, 1], "format": "~g", "ticks": false, "labelPadding": 10, "title": "ν-gap", "titlePadding": 4}},
        "color": {"field": "s", "type": "quantitative",
          "scale": {"domain": [31.5, 35.1, 43.3, 52, 60.6, 65], "range": ["#00007f", "#0000ff", "#00ffff", "#ffff00", "#ff0000", "#840000"], "interpolate": "rgb"},
          "legend": null},
        "detail": {"field": "s", "type": "nominal"}
      }
    },
    {
      "mark": {"type": "point", "opacity": 0},
      "encoding": {
        "x": {"field": "f", "type": "quantitative",
          "axis": {"orient": "top", "title": null, "labels": false, "grid": false,
            "values": [0.01,0.02,0.03,0.04,0.05,0.06,0.07,0.08,0.09,0.1,0.2,0.3,0.4,0.5,0.6,0.7,0.8,0.9,1,2,3,4,5,6,7,8,9,10,20,30,40,50,60,70,80,90,100,200,300,400,500,600,700,800,900,1000],
            "tickSize": -5, "tickColor": "#555"}}
      }
    }
  ],
  "resolve": {"axis": {"x": "independent"}}
},
{
  "width": 12, "height": 342,
  "view": {"stroke": null},
  "data": {"values": [{"s":40},{"s":41},{"s":42},{"s":43},{"s":44},{"s":45},{"s":46},{"s":47},{"s":48},{"s":49},{"s":50},{"s":51},{"s":52},{"s":53},{"s":54},{"s":55},{"s":56},{"s":57},{"s":58},{"s":59},{"s":60},{"s":61},{"s":62},{"s":63},{"s":64},{"s":65}]},
  "mark": {"type": "rect"},
  "encoding": {
    "y": {"field": "s", "type": "quantitative", "bin": {"step": 1, "extent": [40, 66]},
      "scale": {"domain": [39.595, 67.296], "nice": false, "zero": false},
      "axis": {"orient": "right", "values": [40.5, 45.5, 50.5, 55.5, 60.5, 65.5], "labelExpr": "floor(datum.value)", "ticks": false, "grid": false, "labelPadding": 9,
        "title": "true airspeed [m/s]", "titleFontSize": 23.5, "titleAngle": 270, "titleX": 37, "titleY": 206, "titleAlign": "center", "titleBaseline": "middle"}},
    "color": {"field": "s", "type": "quantitative",
      "scale": {"domain": [31.5, 35.1, 43.3, 52, 60.6, 65], "range": ["#00007f", "#0000ff", "#00ffff", "#ffff00", "#ff0000", "#840000"], "interpolate": "rgb"},
      "legend": null}
  }
}
]
}
